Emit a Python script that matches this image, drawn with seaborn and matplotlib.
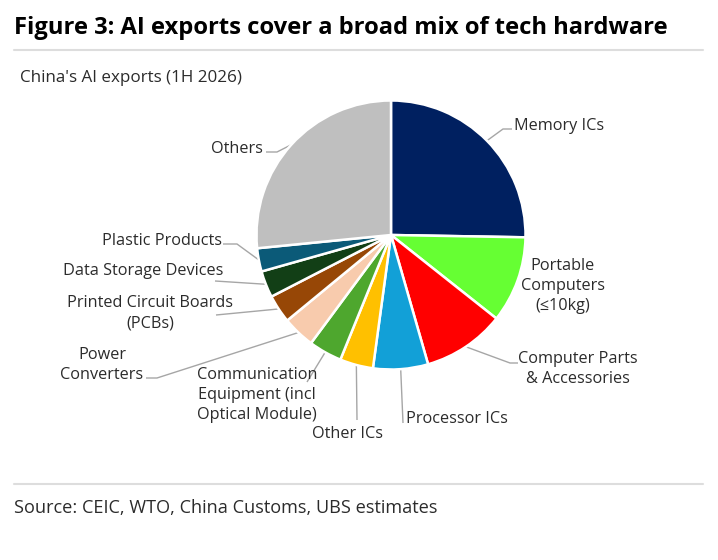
import matplotlib
matplotlib.use("Agg")
import matplotlib.pyplot as plt
from matplotlib.lines import Line2D
import numpy as np
import seaborn as sns

# ---------------- data ----------------
categories = [
    "Memory ICs",
    "Portable\nComputers\n(≤10kg)",
    "Computer Parts\n& Accessories",
    "Processor ICs",
    "Other ICs",
    "Communication\nEquipment (incl\nOptical Module)",
    "Power\nConverters",
    "Printed Circuit Boards\n(PCBs)",
    "Data Storage Devices",
    "Plastic Products",
    "Others",
]
shares = [25.3, 10.4, 9.9, 6.6, 4.0, 4.0, 3.9, 3.4, 3.2, 2.8, 26.6]
colors = ["#002060", "#66FF33", "#FF0000", "#12A0D7", "#FFC000", "#4EA72E",
          "#F8CBAD", "#974706", "#123F16", "#0B5A78", "#BFBFBF"]

title = "Figure 3: AI exports cover a broad mix of tech hardware"
subtitle = "China's AI exports (1H 2026)"
source = "Source: CEIC, WTO, China Customs, UBS estimates"

# ---------------- layout ----------------
W, H = 718, 560
CX, CY, R = 391.0, 235.0, 134.5   # pie centre / radius in pixels

sns.set_theme(style="white")
plt.rcParams["font.family"] = ["Open Sans", "DejaVu Sans"]

fig = plt.figure(figsize=(W / 100, H / 100), dpi=100)
fig.patch.set_facecolor("white")
ax = fig.add_axes([0, 0, 1, 1])
ax.set_xlim(-CX / R, (W - CX) / R)
ax.set_ylim(-(H - CY) / R, CY / R)
ax.set_aspect("equal")
ax.axis("off")

def px(x, y):
    return ((x - CX) / R, (CY - y) / R)

wedges, _ = ax.pie(shares, colors=colors, startangle=90, counterclock=False,
                   radius=1.0, center=(0, 0),
                   wedgeprops=dict(edgecolor="white", linewidth=1.8))
ax.set_xlim(-CX / R, (W - CX) / R)
ax.set_ylim(-(H - CY) / R, CY / R)

# label layout: (anchor px x, px y, ha, leader path points after wedge edge)
label_layout = [
    (514, 126, "left",   [(503, 129), (512, 129)]),
    (563, 286, "center", None),
    (578, 369, "center", [(510, 363), (518, 363)]),
    (406, 419, "left",   [(403, 423)]),
    (347, 434, "center", [(357, 420)]),
    (257, 395, "center", [(307, 382)]),
    (102, 365, "center", [(157, 378), (146, 378)]),
    (150, 313, "center", [(216, 315)]),
    (143, 271, "center", [(215, 281)]),
    (162, 241, "center", [(237, 244), (223, 244)]),
    (263, 149, "right",  [(277, 152), (266, 152)]),
]

lead_col = "#A6A6A6"
txt_col = "#2B2B2B"
label_texts = []
for w, lab, (lx, ly, ha, path) in zip(wedges, categories, label_layout):
    mid = np.deg2rad((w.theta1 + w.theta2) / 2)
    if path:
        xs = [np.cos(mid)] + [px(*p)[0] for p in path]
        ys = [np.sin(mid)] + [px(*p)[1] for p in path]
        ax.plot(xs, ys, color=lead_col, lw=1.0, solid_capstyle="butt", zorder=0)
    t = ax.text(*px(lx, ly), lab, ha=ha, va="center", multialignment="center",
                fontsize=10.5, color=txt_col, linespacing=1.35)
    label_texts.append(t)

t_title = fig.text(14 / W, 1 - 28 / H, title, ha="left", va="center",
                   fontsize=15, fontweight="bold", color="#000000")
t_sub = fig.text(20 / W, 1 - 78 / H, subtitle, ha="left", va="center",
                 fontsize=10.5, color=txt_col)
t_src = fig.text(14 / W, 1 - 508 / H, source, ha="left", va="center",
                 fontsize=11.5, color=txt_col)

for yy in (50, 484):
    fig.add_artist(Line2D([14 / W, 703 / W], [1 - yy / H, 1 - yy / H],
                          color="#DDDDDD", lw=1.5))

# fit text widths to the reference
fig.canvas.draw()
rend = fig.canvas.get_renderer()
def fit(t, target):
    w = t.get_window_extent(rend).width
    t.set_fontsize(t.get_fontsize() * target / w)

fit(t_title, 654)
fit(t_sub, 222)
fit(t_src, 426)

refs = {0: 93, 8: 161, 9: 119, 3: 99}
scales = []
for i, target in refs.items():
    w = label_texts[i].get_window_extent(rend).width
    scales.append(target / w)
fs = label_texts[0].get_fontsize() * float(np.mean(scales))
for t in label_texts:
    t.set_fontsize(fs)

fig.savefig("out.png", dpi=100, facecolor="white")
